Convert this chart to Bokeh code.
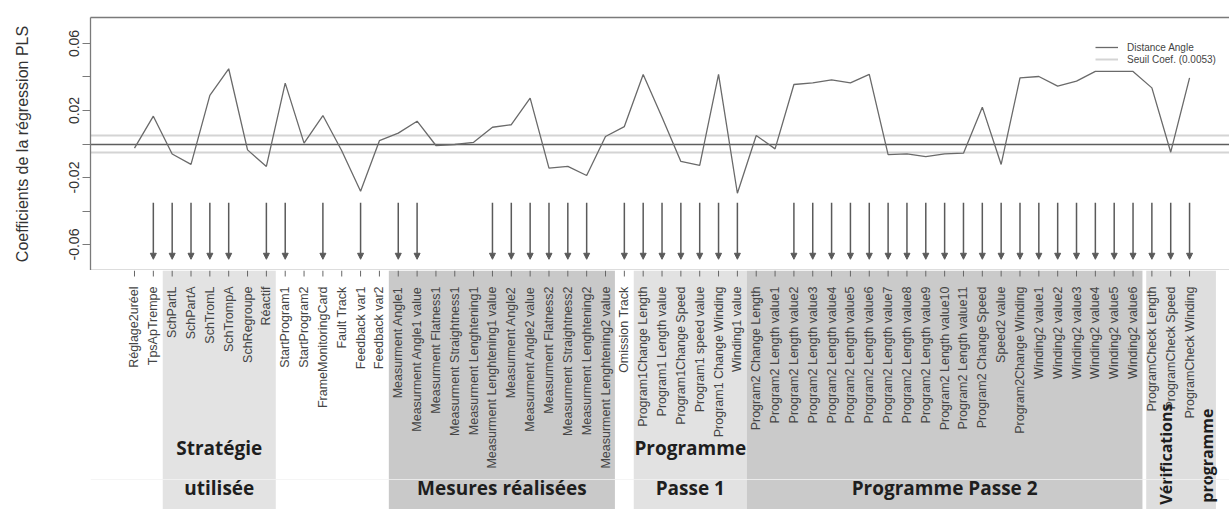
from math import pi
from bokeh.plotting import figure
from bokeh.models import (Range1d, LinearAxis, FixedTicker, Arrow, NormalHead,
                          ColumnDataSource, Legend, LegendItem, Span)
from bokeh.layouts import column
from bokeh.embed import file_html
from bokeh.resources import INLINE
from bokeh.core.properties import value

# ---------------- data ----------------
variables = [
    "Réglage2uréel", "TpsApTrempe", "SchPartL", "SchPartA", "SchTromL", "SchTrompA",
    "SchRegroupe", "Réactif", "StartProgram1", "StartProgram2", "FrameMonitoringCard",
    "Fault Track", "Feedback var1", "Feedback var2",
    "Measurment Angle1", "Measurment Angle1 value", "Measurment Flatness1",
    "Measurment Straightness1", "Measurment Lenghtening1", "Measurment Lenghtening1 value",
    "Measurment Angle2", "Measurment Angle2 value", "Measurment Flatness2",
    "Measurment Straightness2", "Measurment Lenghtening2", "Measurment Lenghtening2 value",
    "Omission Track",
    "Program1Change Length", "Program1 Length value", "Program1Change Speed",
    "Program1 speed value", "Program1 Change Winding", "Winding1 value",
    "Program2 Change Length", "Program2 Length value1", "Program2 Length value2",
    "Program2 Length value3", "Program2 Length value4", "Program2 Length value5",
    "Program2 Length value6", "Program2 Length value7", "Program2 Length value8",
    "Program2 Length value9", "Program2 Length value10", "Program2 Length value11",
    "Program2 Change Speed", "Speed2 value", "Program2Change Winding",
    "Winding2 value1", "Winding2 value2", "Winding2 value3", "Winding2 value4",
    "Winding2 value5", "Winding2 value6",
    "ProgramCheck Length", "ProgramCheck Speed", "ProgramCheck Winding",
]

coefficients = [
    -0.0025, 0.0166, -0.0060, -0.0122, 0.0290, 0.0449, -0.0035, -0.0134, 0.0363, 0.0005,
    0.0170, -0.0040, -0.0282, 0.0020, 0.0065, 0.0136, -0.0009, -0.0003, 0.0010, 0.0100,
    0.0115, 0.0274, -0.0144, -0.0134, -0.0188, 0.0045, 0.0104, 0.0415, 0.0160, -0.0104,
    -0.0128, 0.0415, -0.0294, 0.0051, -0.0029, 0.0355, 0.0365, 0.0383, 0.0365, 0.0415,
    -0.0063, -0.0059, -0.0075, -0.0059, -0.0055, 0.0220, -0.0122, 0.0395, 0.0403, 0.0345,
    0.0375, 0.0433, 0.0433, 0.0433, 0.0335, -0.0049, 0.0395,
]

# variables marked with an arrow (1-based positions)
selected = [2, 3, 4, 5, 6, 8, 9, 11, 13, 15, 16, 20, 21, 22, 23, 24, 25,
            27, 28, 29, 30, 31, 32, 33] + list(range(36, 58))

threshold = 0.0053
series_label = "Distance Angle"
threshold_label = "Seuil Coef. (0.0053)"

group_lines = [["Stratégie", "utilisée"], ["Mesures réalisées"], ["Programme", "Passe 1"],
               ["Programme Passe 2"], ["Vérifications", "programme"]]
group_first = [3, 15, 28, 34, 55]
group_last = [8, 26, 33, 54, 57]
group_colors = ["#e3e3e3", "#c9c9c9", "#e2e2e2", "#cacaca", "#dedede"]

y_ticks = [-0.06, -0.04, -0.02, 0.0, 0.02, 0.04, 0.06]
y_tick_labels = ["-0.06", "", "-0.02", "", "0.02", "", "0.06"]

# ---------------- layout ----------------
idx = list(range(1, len(variables) + 1))
W = 1229
LEFT = 90
x_range = Range1d(-1.335, 59.12)
FONT = value("Liberation Sans")
GRAY_AX = "#7a7a7a"

p = figure(width=W, height=270, x_range=x_range, y_range=Range1d(-0.0755, 0.0755),
           output_backend="svg", toolbar_location=None,
           min_border_left=LEFT, min_border_right=0, min_border_top=17, min_border_bottom=0)
p.outline_line_color = None
p.grid.visible = False
p.background_fill_color = "white"
p.border_fill_color = "white"

# x axis: just the frame line
p.xaxis.ticker = FixedTicker(ticks=[])
p.xaxis.major_label_text_font_size = "0px"
p.xaxis.major_label_standoff = 0
p.xaxis.major_tick_out = 0
p.xaxis.axis_line_color = GRAY_AX
p.xaxis.axis_line_width = 1.3

top_axis = LinearAxis(ticker=FixedTicker(ticks=[]), major_label_text_font_size="0px",
                      major_label_standoff=0, major_tick_out=0,
                      axis_line_color=GRAY_AX, axis_line_width=1.3)
p.add_layout(top_axis, "above")

# y axis
p.yaxis.ticker = FixedTicker(ticks=y_ticks)
p.yaxis.major_label_overrides = {t: l for t, l in zip(y_ticks, y_tick_labels)}
p.yaxis.major_label_orientation = "vertical"
p.yaxis.major_label_text_font = "Liberation Sans"
p.yaxis.major_label_text_font_size = "14px"
p.yaxis.major_label_text_color = "#333333"
p.yaxis.major_label_standoff = 3
p.yaxis.major_tick_out = 8
p.yaxis.major_tick_in = 0
p.yaxis.minor_tick_out = 0
p.yaxis.minor_tick_in = 0
p.yaxis.major_tick_line_color = GRAY_AX
p.yaxis.axis_line_color = GRAY_AX
p.yaxis.axis_line_width = 1.3
p.yaxis.axis_label = "Coefficients de la régression PLS"
p.yaxis.axis_label_text_font = "Liberation Sans"
p.yaxis.axis_label_text_font_size = "16px"
p.yaxis.axis_label_text_font_style = "normal"
p.yaxis.axis_label_text_color = "#333333"
p.yaxis.axis_label_standoff = 36

# reference lines
thr_r = p.hspan(y=[threshold, -threshold], line_color="#d4d4d4", line_width=2)
p.hspan(y=[0], line_color="#5e5e5e", line_width=1.3)

# data line
line_r = p.line(x=idx, y=coefficients, line_color="#6a6a6a", line_width=1.3)

# arrows for selected variables
arrow_src = ColumnDataSource(dict(x=selected))
p.add_layout(Arrow(x_start="x", x_end="x", y_start=-0.035, y_end=-0.0688,
                   source=arrow_src, line_color="#5a5a5a", line_width=1.5,
                   end=NormalHead(size=6, fill_color="#5a5a5a", line_color="#5a5a5a",
                                  line_width=1)))

legend = Legend(items=[LegendItem(label=series_label, renderers=[line_r]),
                       LegendItem(label=threshold_label, renderers=[thr_r])],
                location=(1005, 205), padding=0, margin=0, spacing=0,
                glyph_width=23, glyph_height=12, label_height=12, label_standoff=9,
                border_line_color=None, background_fill_alpha=0,
                label_text_font="Liberation Sans", label_text_font_size="10px",
                label_text_color="#444444")
p.add_layout(legend)

# ---------------- lower panel: labels and groups ----------------
H2 = 239
q = figure(width=W, height=H2, x_range=x_range, y_range=Range1d(-H2, 0),
           output_backend="svg", toolbar_location=None,
           min_border_left=LEFT, min_border_right=0, min_border_top=0, min_border_bottom=0)
q.outline_line_color = None
q.grid.visible = False
q.axis.visible = False
q.border_fill_color = "white"

# bands
right_pad = [0.5, 0.5, 0.5, 0.5, 1.4]
left_pad = [0.5, 0.5, 0.5, 0.5, 0.3]
q.quad(left=[f - lp for f, lp in zip(group_first, left_pad)],
       right=[l + rp for l, rp in zip(group_last, right_pad)],
       top=0, bottom=-H2, fill_color=group_colors, line_color=None)

# row divider
q.add_layout(Span(location=-209, dimension="width", line_color="#f2f2f2",
                  line_width=1, line_alpha=0.8))

# ticks
q.segment(x0=idx, x1=idx, y0=0, y1=-6, line_color="#666666", line_width=1)

# variable labels
q.text(x=idx, y=-16, text=variables, angle=pi / 2, text_align="right",
       text_baseline="middle", text_font=FONT, text_font_size="12.5px",
       text_color="#444444")

# group labels
GFONT = value("Open Sans")
row_y = [-177, -217]
hx, hy, ht = [], [], []
for lines, f, l in zip(group_lines[:4], group_first[:4], group_last[:4]):
    cx = (f + l) / 2
    rows = row_y[-len(lines):]
    for t, yy in zip(lines, rows):
        hx.append(cx)
        hy.append(yy)
        ht.append(t)
q.text(x=hx, y=hy, text=ht, text_align="center", text_baseline="middle",
       text_font=GFONT, text_font_style="bold", text_font_size="19px",
       text_color="#1e1e1e")

vlines = group_lines[4]
vx = [group_first[4] + 0.75 + 2.2 * i for i in range(len(vlines))]
vy = [-133, -138]
q.text(x=vx, y=vy, text=vlines, angle=pi / 2, text_align="right",
       text_baseline="middle", text_font=GFONT, text_font_style="bold",
       text_font_size="16px", text_color="#1e1e1e")

layout = column(p, q, spacing=0)
open("out.html", "w").write(file_html(layout, INLINE))
